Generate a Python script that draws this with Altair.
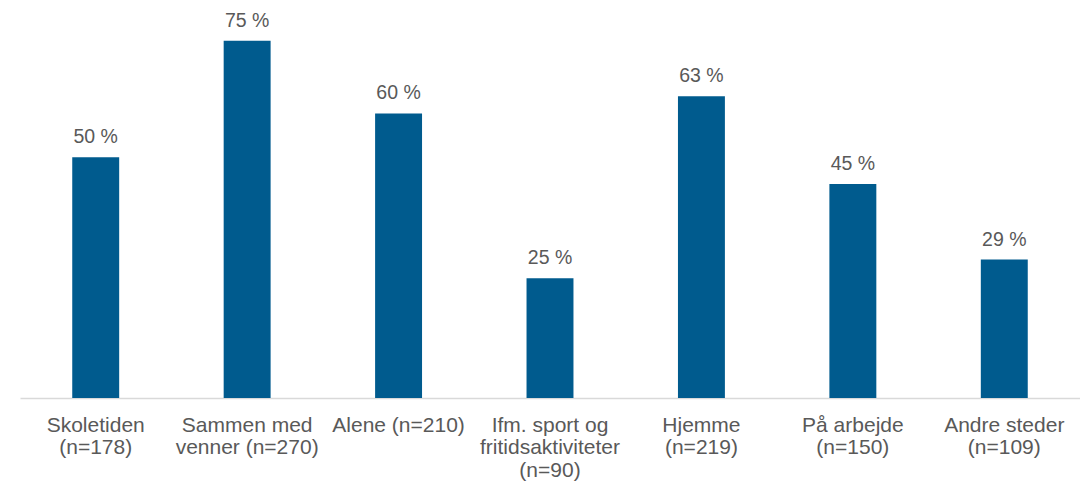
import altair as alt
import pandas as pd

categories = [
    "Skoletiden\n(n=178)",
    "Sammen med\nvenner (n=270)",
    "Alene (n=210)",
    "Ifm. sport og\nfritidsaktiviteter\n(n=90)",
    "Hjemme\n(n=219)",
    "På arbejde\n(n=150)",
    "Andre steder\n(n=109)",
]
values = [50.4, 74.8, 59.6, 25.1, 63.2, 44.8, 29.0]

df = pd.DataFrame({"cat": categories, "val": values})

FONT = "Liberation Sans"
GRAY = "#595959"

x = alt.X(
    "cat:N",
    sort=categories,
    scale=alt.Scale(paddingInner=0.69, paddingOuter=0.345),
    axis=alt.Axis(
        title=None,
        labelAngle=0,
        labelExpr="split(datum.label, '\\n')",
        labelFont=FONT,
        labelFontSize=21,
        labelColor=GRAY,
        labelLineHeight=22.7,
        labelPadding=16,
        labelBaseline="top",
        ticks=False,
        domainColor="#d9d9d9",
        domainWidth=1.5,
        labelLimit=300,
    ),
)
y = alt.Y("val:Q", scale=alt.Scale(domain=[0, 80]), axis=None)

bars = alt.Chart(df).mark_bar(color="#005B8E").encode(x=x, y=y)
text = (
    alt.Chart(df)
    .transform_calculate(label="format(datum.val, '.0f') + ' %'")
    .mark_text(font=FONT, fontSize=19.5, color=GRAY, baseline="alphabetic", dy=-14)
    .encode(x=x, y=y, text="label:N")
)

chart = (
    (bars + text)
    .properties(
        width=1060,
        height=382,
        autosize=alt.AutoSizeParams(type="none"),
        padding={"left": 12, "top": 8, "right": 0, "bottom": 88},
        view=alt.ViewBackground(stroke="transparent", strokeWidth=0),
    )
    .configure_view(stroke="transparent", strokeWidth=0)
    .configure(background="white")
)

chart.save("out.html", embed_options={"renderer": "svg", "actions": False})
